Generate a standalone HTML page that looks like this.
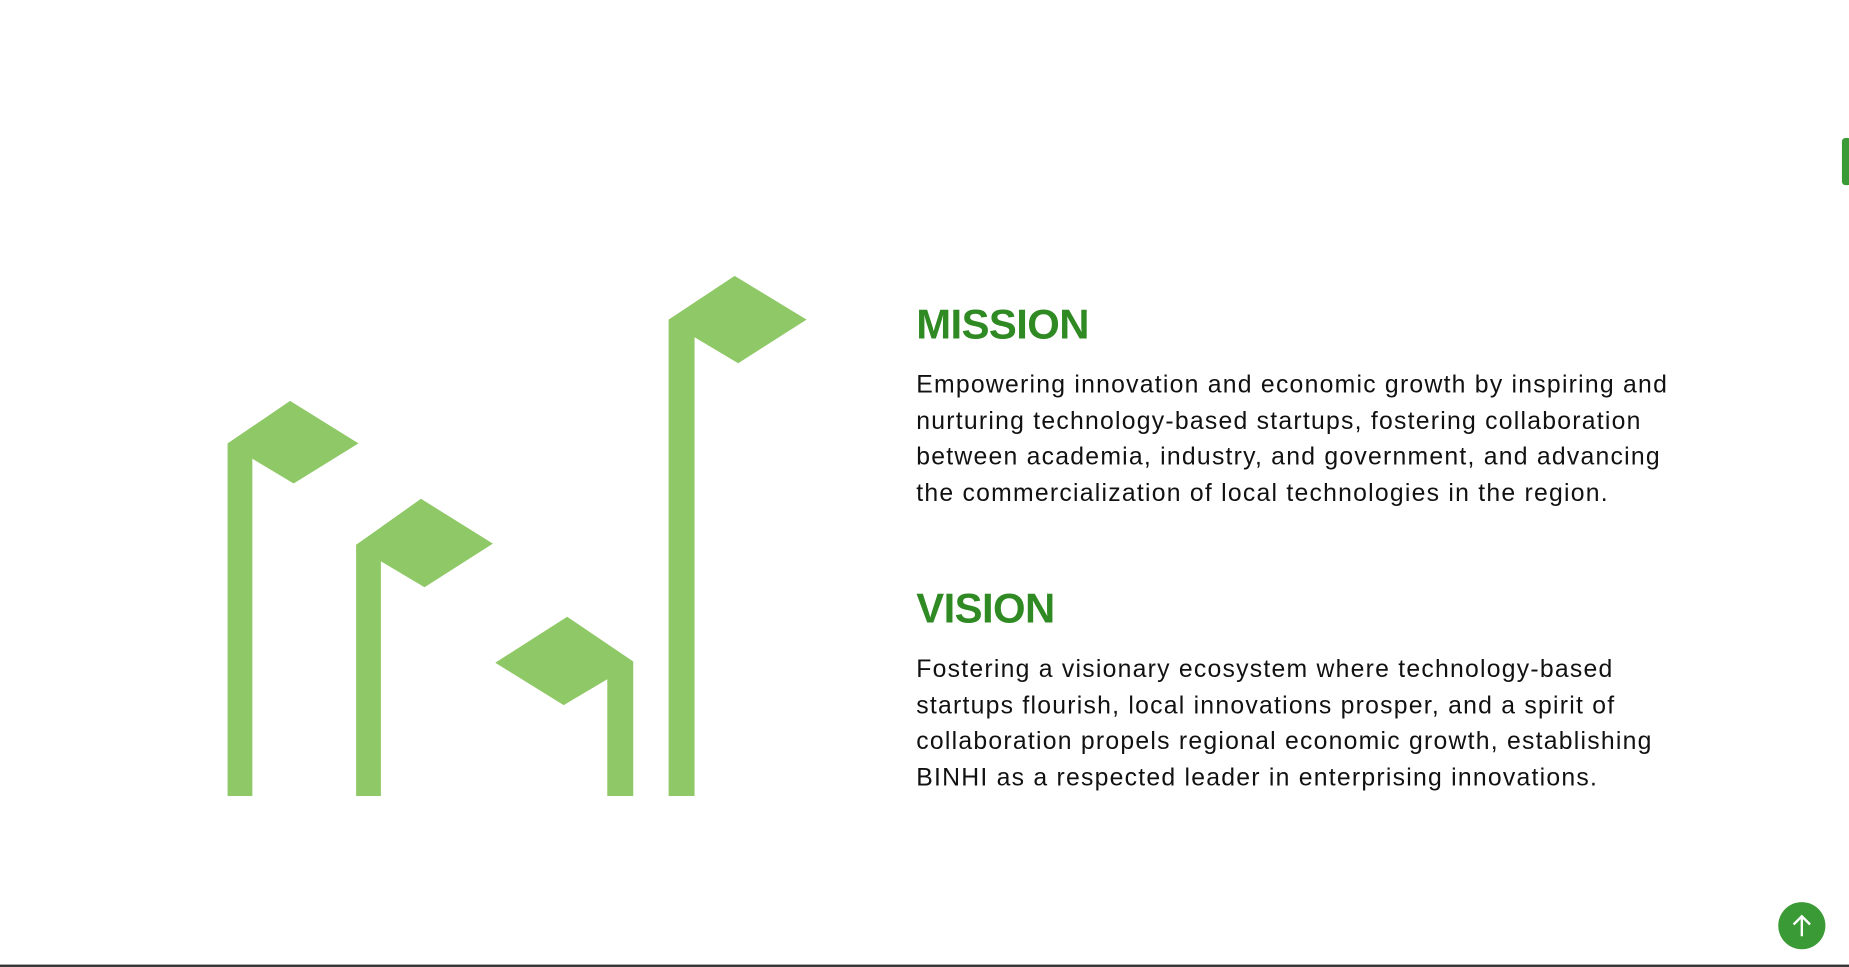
<!DOCTYPE html>
<html><head><meta charset="utf-8"><style>
html,body{margin:0;padding:0;background:#fff;overflow:hidden;}
body{width:1849px;height:967px;position:relative;}
#wrap{position:absolute;left:0;top:0;width:1568px;height:820px;transform:scale(1.17921);transform-origin:0 0;}
.h{position:absolute;left:777px;font-family:"Liberation Sans",sans-serif;font-weight:bold;color:#2f8a23;font-size:35.5px;letter-spacing:-0.5px;line-height:1;margin:0;}
.p{position:absolute;left:777px;font-family:"Liberation Sans",sans-serif;font-size:21px;color:#111;line-height:30.6px;letter-spacing:1.05px;white-space:nowrap;margin:0;}
</style></head><body>
<div id="wrap">
<svg style="position:absolute;left:0;top:0" width="1568" height="820">
 <g fill="#8fc866">
  <polygon points="193,675 193,376 246,340 304,376 249,410 214,389 214,675"/>
  <polygon points="302,675 302,462 357,423 418,461 360,498 323,476 323,675"/>
  <polygon points="537,675 537,561 481,523 420,562 478,598 515,576 515,675"/>
  <polygon points="567,675 567,271 623,234 684,271 626,308 589,286 589,675"/>
 </g>
</svg>
<h2 class="h" style="top:258px">MISSION</h2>
<p class="p" style="top:312px">Empowering innovation and economic growth by inspiring and<br>nurturing technology-based startups, fostering collaboration<br>between academia, industry, and government, and advancing<br>the commercialization of local technologies in the region.</p>
<h2 class="h" style="top:499px">VISION</h2>
<p class="p" style="top:553px">Fostering a visionary ecosystem where technology-based<br>startups flourish, local innovations prosper, and a spirit of<br>collaboration propels regional economic growth, establishing<br>BINHI as a respected leader in enterprising innovations.</p>
<div style="position:absolute;left:1562px;top:117px;width:8px;height:40px;border-radius:3px;background:#3a9a35"></div>
<div style="position:absolute;left:1508px;top:765px;width:40px;height:40px;border-radius:50%;background:#3a9a35">
 <svg width="40" height="40"><path d="M20 29 V12 M13 19 L20 12 L27 19" stroke="#fff" stroke-width="2" fill="none"/></svg>
</div>
<div style="position:absolute;left:0;top:818px;width:1568px;height:2px;background:#333"></div>
</div>
</body></html>
